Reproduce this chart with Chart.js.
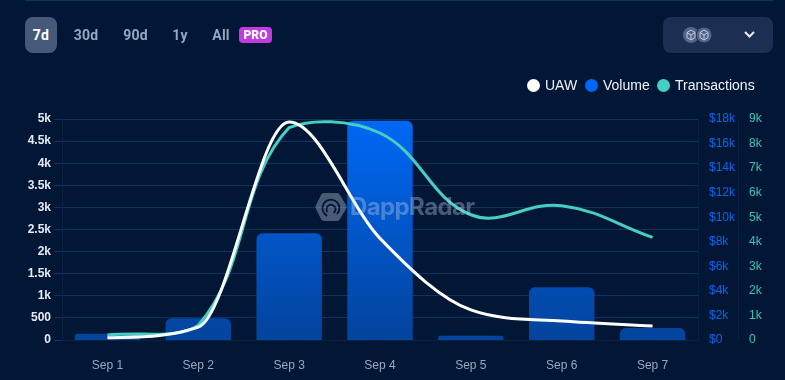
<!DOCTYPE html>
<html><head><meta charset="utf-8">
<style>
html,body{margin:0;padding:0;width:785px;height:380px;overflow:hidden;background:#021736}
#topline{position:absolute;left:25px;top:0;width:748px;height:1px;background:#12315e}
canvas{position:absolute;left:0;top:0}
.tab{position:absolute;top:17px;height:36px;text-align:center;font:700 14px/36px Roboto,sans-serif;color:#94a6c2;letter-spacing:.2px}
#t7{left:25px;width:32px;background:#46597b;border-radius:8px;color:#fff}
#pro{position:absolute;left:239px;top:27px;width:33px;height:16px;background:#c23be0;border-radius:4px;color:#fff;font:900 12px/16px Roboto,sans-serif;text-align:center}
#drop{position:absolute;left:663px;top:17px;width:110px;height:36px;background:#1c2f52;border-radius:8px}
#wm{position:absolute;left:315px;top:192px;width:170px;height:30px;pointer-events:none;opacity:.36;z-index:3}
#wm span{position:absolute;left:35px;top:0;font:700 24px/30px Inter,"Noto Sans",sans-serif;color:#c8d2e2;letter-spacing:-.6px}
.lg{position:absolute;top:77px;height:16px;font:14px/16px "Liberation Sans",Arial,sans-serif;color:#f0f3f8;white-space:nowrap}
.lg i{position:absolute;left:0;top:2px;width:13px;height:13px;border-radius:50%}
.lg span{position:absolute;left:18px;top:0}
</style>
<script src="https://cdn.jsdelivr.net/npm/chart.js@4"></script>
</head><body>
<div id="topline"></div>
<canvas id="c" width="785" height="380"></canvas>
<div class="tab" id="t7">7d</div>
<div class="tab" style="left:70px;width:32px">30d</div>
<div class="tab" style="left:119px;width:33px">90d</div>
<div class="tab" style="left:165px;width:30px">1y</div>
<div class="tab" style="left:206px;width:30px">All</div>
<div id="pro">PRO</div>
<div id="drop">
<svg width="110" height="36" viewBox="0 0 110 36">
<circle cx="28" cy="18" r="8" fill="#52648a"/><circle cx="41" cy="18" r="8" fill="#52648a" stroke="#1c2f52" stroke-width="1"/>
<path d="M28 13l4 2.500v5l-4 2.500-4-2.500v-5zM24 15.500l4 2.500 4-2.500M28 18v5" fill="none" stroke="#c5cede" stroke-width="1"/>
<path d="M41 13l4 2.500v5l-4 2.500-4-2.500v-5zM37 15.500l4 2.500 4-2.500M41 18v5" fill="none" stroke="#c5cede" stroke-width="1"/>
<path d="M82 15l4.500 4.500 4.500-4.500" fill="none" stroke="#e8ecf2" stroke-width="2"/>
</svg></div>
<div id="wm">
<svg width="34" height="30" viewBox="0 0 34 30" style="position:absolute;left:0;top:0">
<path d="M9 1h13q2 0 3 2l6 10q1 2 0 4l-6 10q-1 2-3 2H9q-2 0-3-2L1 17q-1-2 0-4L6 3q1-2 3-2z" fill="#c8d2e2"/>
<path d="M9 21a8.500 8.500 0 1 1 13 1M12.500 20a4.500 4.500 0 1 1 6 1M9 21l3 3" fill="none" stroke="#021736" stroke-width="1.800"/>
</svg><span>DappRadar</span></div>
<script>
const categories=["Sep 1","Sep 2","Sep 3","Sep 4","Sep 5","Sep 6","Sep 7"];
const uaw=[50,290,4930,2300,680,430,315];
const volume=[500,1780,8700,17850,350,4300,970];
const transactions=[200,600,8650,8430,5100,5470,4180];
const legendColors=["#ffffff","#0066ff","#45cfc0"];
const legendLefts=[527,585,657];
function kFmt(v){return v>=1000?(v/1000)+"k":String(v)}
const ctx=document.getElementById("c").getContext("2d");
function barGrad(c){
  const a=c.chart.chartArea; if(!a) return "#0250b8";
  const g=c.chart.ctx.createLinearGradient(0,a.top,0,a.bottom);
  g.addColorStop(0,"#0068f5");g.addColorStop(1,"#03449c");return g;
}
const chart=new Chart(ctx,{
  data:{labels:categories,datasets:[
    {type:"line",label:"UAW",data:uaw,yAxisID:"y",borderColor:"#ffffff",backgroundColor:"#ffffff",borderWidth:3,pointRadius:0,cubicInterpolationMode:"monotone",order:0},
    {type:"bar",label:"Volume",data:volume,yAxisID:"y1",backgroundColor:barGrad,borderRadius:{topLeft:6,topRight:6},borderSkipped:"bottom",categoryPercentage:.8,barPercentage:.9,order:2},
    {type:"line",label:"Transactions",data:transactions,yAxisID:"y2",borderColor:"#45cfc0",backgroundColor:"#45cfc0",borderWidth:3,pointRadius:0,tension:.4,order:1}
  ]},
  options:{
    responsive:false,animation:false,
    layout:{padding:{top:119,left:0,right:0,bottom:0}},
    plugins:{tooltip:{enabled:false},legend:{display:false}},
    scales:{
      x:{grid:{display:false},border:{color:"#0b2140"},
        ticks:{color:"#9aa8bd",padding:10,font:{family:"'Liberation Sans',Arial,sans-serif",size:12}},
        afterFit(s){s.height=40}},
      y:{position:"left",min:0,max:5000,
        ticks:{stepSize:500,callback:kFmt,color:"#e6eaf0",padding:3,font:{family:"'Liberation Sans',Arial,sans-serif",size:12,weight:"bold"}},
        grid:{color:"#14305c",tickLength:8,lineWidth:1},border:{color:"#0b2140"},
        afterFit(s){s.width=62}},
      y1:{position:"right",min:0,max:18000,
        ticks:{stepSize:2000,callback:v=>"$"+kFmt(v),color:"#0a66e8",padding:3,font:{family:"'Liberation Sans',Arial,sans-serif",size:12}},
        grid:{display:false},border:{color:"#0a1f3e"},
        afterFit(s){s.width=40}},
      y2:{position:"right",min:0,max:9000,
        ticks:{stepSize:1000,callback:kFmt,color:"#3cc4b6",padding:3,font:{family:"'Liberation Sans',Arial,sans-serif",size:12}},
        grid:{display:false},border:{color:"#0a1f3e"},
        afterFit(s){s.width=47}}
    }
  }
});
chart.data.datasets.forEach((d,i)=>{
  const el=document.createElement("div");el.className="lg";el.style.left=legendLefts[i]+"px";
  const dot=document.createElement("i");dot.style.background=legendColors[i];
  const t=document.createElement("span");t.textContent=d.label;
  el.append(dot,t);document.body.append(el);
});
</script>
</body></html>
